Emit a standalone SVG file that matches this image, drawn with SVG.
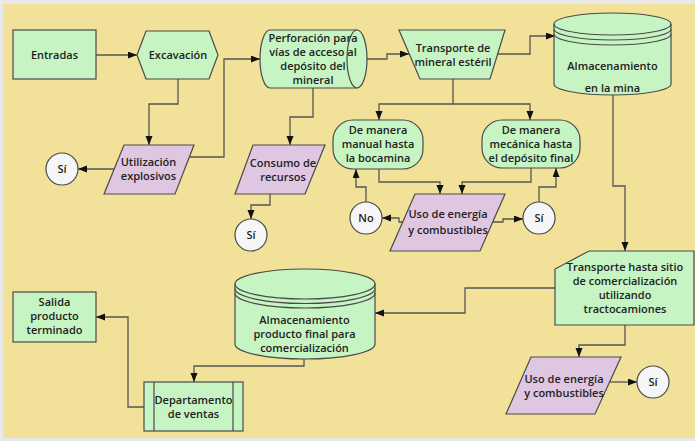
<svg xmlns="http://www.w3.org/2000/svg" width="695" height="441" viewBox="0 0 695 441">
<defs>
<marker id="arr" markerUnits="userSpaceOnUse" markerWidth="10" markerHeight="8" refX="9" refY="3.5" orient="auto">
<path d="M0,0 L9,3.5 L0,7 Z" fill="#111"/>
</marker>
<style>
.g{fill:#c6f5c3;stroke:#4a4a4a;stroke-width:1.2}
.p{fill:#dfc7e1;stroke:#4a4a4a;stroke-width:1.2}
.c{fill:#f6f6f6;stroke:#4a4a4a;stroke-width:1.2}
.ln{fill:none;stroke:#4a4a4a;stroke-width:1.2}
.e{fill:none;stroke:#555;stroke-width:1.3;marker-end:url(#arr)}
text{font-family:"Open Sans","DejaVu Sans",sans-serif;font-size:11px;font-weight:600;fill:#222;text-anchor:middle}
</style>
</defs>
<rect x="0" y="0" width="695" height="441" fill="#e9e9e9"/>
<rect x="3" y="4" width="692" height="434" fill="#f2e199"/>

<g id="connectors">
<path class="e" d="M96,55 H137"/>
<path class="e" d="M178,79 V104 H149 V145"/>
<path class="e" d="M114,169 H78"/>
<path class="e" d="M189,157 H224 V59 H260"/>
<path class="e" d="M313,88 V117 H290 V145"/>
<path class="e" d="M367,59 H387 V54 H409"/>
<path class="e" d="M498,54 H530 V36 H555"/>
<path class="e" d="M453,79 V104 H379 V120"/>
<path class="e" d="M453,104 H530 V120"/>
<path class="e" d="M379,169 V182 H440 V194"/>
<path class="e" d="M531,168 V182 H462 V194"/>
<path class="e" d="M403,222 H399 V218 H382"/>
<path class="e" d="M366,202 V187 H356 V169"/>
<path class="e" d="M493,222 H503 V219 H523"/>
<path class="e" d="M539,202 V187 H556 V168"/>
<path class="e" d="M270,194 V205 H251 V219"/>
<path class="e" d="M613,95 V186 H625 V251"/>
<path class="e" d="M625,325 V345 H579 V357"/>
<path class="e" d="M610,382 H637"/>
<path class="e" d="M555,288 H465 V313 H375"/>
<path class="e" d="M304,359 V366 H194 V382"/>
<path class="e" d="M144,407 H128 V317 H96"/>
</g>

<g id="entradas">
<rect class="g" x="13" y="30" width="83" height="49"/>
<text x="54.5" y="59">Entradas</text>
</g>

<g id="excavacion">
<polygon class="g" points="137,55 146,31 209,31 218,55 209,79 146,79"/>
<text x="178" y="59">Excavación</text>
</g>

<g id="utilizacion">
<polygon class="p" points="124,145 194,145 175,194 104,194"/>
<text x="148.5" y="166">Utilización</text>
<text x="148.5" y="180">explosivos</text>
</g>

<g id="si1">
<circle class="c" cx="62" cy="169" r="16"/>
<text x="62" y="173">Sí</text>
</g>

<g id="perforacion">
<path class="g" d="M270,30 L357,30 A10,29 0 0 1 357,88 L270,88 A10,29 0 0 1 270,30 Z"/>
<path class="ln" d="M357,30 A10,29 0 0 0 357,88"/>
<text x="313" y="42">Perforación para</text>
<text x="313" y="56">vías de acceso al</text>
<text x="313" y="70">depósito del</text>
<text x="313" y="84">mineral</text>
</g>

<g id="transporte-esteril">
<polygon class="g" points="399,30 505,30 490,79 420,79"/>
<text x="453" y="52">Transporte de</text>
<text x="453" y="66">mineral estéril</text>
</g>

<g id="almacenamiento-mina">
<path class="g" d="M554,24 A58.5,11 0 0 1 671,24 L671,84 A58.5,11 0 0 1 554,84 Z"/>
<path class="ln" d="M554,24 A58.5,11 0 0 0 671,24 M554,29 A58.5,11 0 0 0 671,29 M554,34 A58.5,11 0 0 0 671,34"/>
<text x="612.5" y="70">Almacenamiento</text>
<text x="612.5" y="92">en la mina</text>
</g>

<g id="manual">
<rect class="g" x="333" y="120" width="90" height="49" rx="20" ry="20"/>
<text x="378" y="134">De manera</text>
<text x="378" y="148">manual hasta</text>
<text x="378" y="162">la bocamina</text>
</g>

<g id="mecanica">
<rect class="g" x="482" y="120" width="98" height="48" rx="20" ry="20"/>
<text x="531" y="134">De manera</text>
<text x="531" y="148">mecánica hasta</text>
<text x="531" y="162">el depósito final</text>
</g>

<g id="uso-energia-1">
<polygon class="p" points="415,194 505,194 480,251 390,251"/>
<text x="448" y="218">Uso de energía</text>
<text x="448" y="234">y combustibles</text>
</g>

<g id="no">
<circle class="c" cx="366" cy="218" r="16"/>
<text x="366" y="222">No</text>
</g>

<g id="si2">
<circle class="c" cx="539" cy="218" r="16"/>
<text x="539" y="222">Sí</text>
</g>

<g id="consumo">
<polygon class="p" points="253,145 325,145 305,194 235,194"/>
<text x="283" y="167">Consumo de</text>
<text x="283" y="181">recursos</text>
</g>

<g id="si3">
<circle class="c" cx="251" cy="235" r="16"/>
<text x="251" y="239">Sí</text>
</g>

<g id="transporte-comercializacion">
<path class="g" d="M589,251 L694,251 L694,325 L555,325 L555,269 Z"/>
<text x="625" y="271">Transporte hasta sitio</text>
<text x="625" y="285">de comercialización</text>
<text x="625" y="299">utilizando</text>
<text x="625" y="313">tractocamiones</text>
</g>

<g id="uso-energia-2">
<polygon class="p" points="531,357 621,357 595,414 506,414"/>
<text x="564" y="383">Uso de energía</text>
<text x="564" y="397">y combustibles</text>
</g>

<g id="si4">
<circle class="c" cx="653" cy="382" r="16"/>
<text x="653" y="386">Sí</text>
</g>

<g id="almacenamiento-producto">
<path class="g" d="M235,284 A70,15 0 0 1 375,284 L375,344 A70,15 0 0 1 235,344 Z"/>
<path class="ln" d="M235,284 A70,15 0 0 0 375,284 M235,288.5 A70,15 0 0 0 375,288.5 M235,293 A70,15 0 0 0 375,293"/>
<text x="304.5" y="324">Almacenamiento</text>
<text x="304.5" y="338">producto final para</text>
<text x="304.5" y="352">comercialización</text>
</g>

<g id="departamento">
<rect class="g" x="144" y="382" width="99" height="49"/>
<path class="ln" d="M154,382 V431 M233,382 V431"/>
<text x="193.5" y="404">Departamento</text>
<text x="193.5" y="418">de ventas</text>
</g>

<g id="salida">
<rect class="g" x="13" y="292" width="83" height="50"/>
<text x="54.5" y="306">Salida</text>
<text x="54.5" y="320">producto</text>
<text x="54.5" y="334">terminado</text>
</g>
</svg>
